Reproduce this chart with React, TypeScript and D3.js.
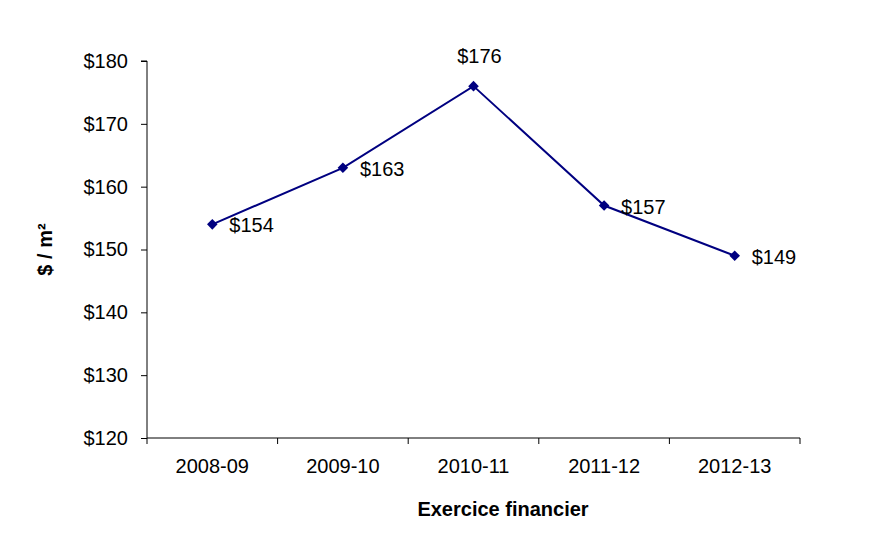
// @ts-nocheck
import React, { useEffect, useRef } from 'react';
import * as d3 from 'd3';

const years = ['2008-09', '2009-10', '2010-11', '2011-12', '2012-13'];
const costs = [154, 163, 176, 157, 149];
const yTicks = [120, 130, 140, 150, 160, 170, 180];

const App = () => {
  const svgRef = useRef(null);

  useEffect(() => {
    const width = 880;
    const height = 556;
    const left = 147;
    const right = 800;
    const top = 61;
    const bottom = 438;
    const font = 'Liberation Sans, Arial, sans-serif';

    const svg = d3.select(svgRef.current)
      .attr('width', width)
      .attr('height', height)
      .style('font-family', font);
    svg.selectAll('*').remove();

    const x = d3.scaleBand().domain(years).range([left, right]);
    const y = d3.scaleLinear().domain([120, 180]).range([bottom, top]);

    // y axis
    const gy = svg.append('g').attr('transform', `translate(${left},0)`)
      .call(d3.axisLeft(y).tickValues(yTicks).tickSize(6).tickPadding(13).tickFormat(d => `$${d}`));
    gy.select('.domain').attr('stroke', '#000').attr('d', `M-6,${top}H0V${bottom}`);
    gy.selectAll('.tick line').attr('stroke', '#000');
    gy.selectAll('.tick text')
      .attr('fill', '#000')
      .style('font-size', '20px')
      .style('font-family', font);

    // x axis
    const gx = svg.append('g').attr('transform', `translate(0,${bottom})`);
    gx.append('line').attr('x1', left).attr('x2', right).attr('stroke', '#000');
    const edges = years.map(d => x(d)).concat([right]);
    gx.selectAll('line.tk').data(edges).enter().append('line')
      .attr('class', 'tk')
      .attr('x1', d => d).attr('x2', d => d)
      .attr('y1', 0).attr('y2', 6)
      .attr('stroke', '#000');
    gx.selectAll('text').data(years).enter().append('text')
      .attr('x', d => x(d) + x.bandwidth() / 2)
      .attr('y', 35)
      .attr('text-anchor', 'middle')
      .style('font-size', '20px')
      .text(d => d);

    // line
    const pts = years.map((d, i) => [x(d) + x.bandwidth() / 2, y(costs[i])]);
    svg.append('path')
      .datum(pts)
      .attr('d', d3.line())
      .attr('fill', 'none')
      .attr('stroke', '#000080')
      .attr('stroke-width', 2);

    svg.selectAll('path.mk').data(pts).enter().append('path')
      .attr('class', 'mk')
      .attr('d', d3.symbol(d3.symbolSquare, 56))
      .attr('transform', d => `translate(${d[0]},${d[1]}) rotate(45)`)
      .attr('fill', '#000080');

    // labels
    svg.selectAll('text.lbl').data(pts).enter().append('text')
      .attr('class', 'lbl')
      .attr('x', (d, i) => i === 2 ? d[0] + 6 : d[0] + 17)
      .attr('y', (d, i) => i === 2 ? d[1] - 23 : d[1] + 8)
      .attr('text-anchor', (d, i) => i === 2 ? 'middle' : 'start')
      .style('font-size', '20px')
      .text((d, i) => `$${costs[i]}`);

    // titles
    svg.append('text')
      .attr('x', 503)
      .attr('y', 516)
      .attr('text-anchor', 'middle')
      .style('font-size', '20px')
      .style('font-weight', 'bold')
      .text('Exercice financier');

    svg.append('text')
      .attr('transform', `translate(52,${(top + bottom) / 2}) rotate(-90)`)
      .attr('text-anchor', 'middle')
      .style('font-size', '20px')
      .style('font-weight', 'bold')
      .text('$ / m²');
  }, []);

  return (
    <div style={{ position: 'absolute', left: 0, top: 0, background: '#fff' }}>
      <svg ref={svgRef}></svg>
    </div>
  );
};

export default App;
